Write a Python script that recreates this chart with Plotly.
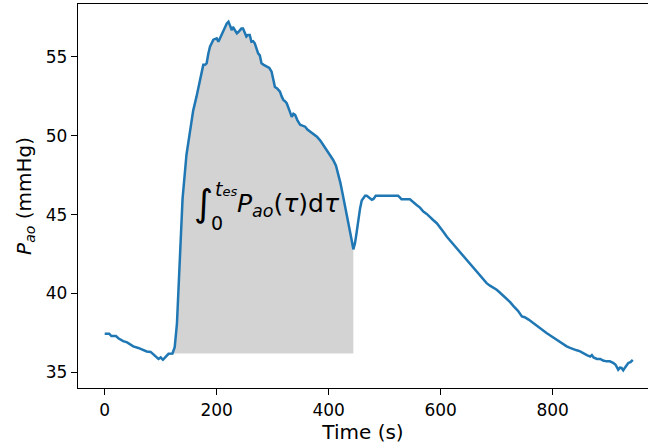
import plotly.graph_objects as go

# Time (s)
time_s = [0, 8, 12, 20, 25, 33, 40, 51, 60, 68, 75, 82, 88, 96, 100, 104, 108, 114, 121,
          125, 129, 134, 139, 143, 146, 152, 158, 164, 170, 176, 179, 182, 185, 188, 194,
          200, 203, 206, 209, 214, 218, 221, 224, 227, 229, 231, 234, 236, 239, 241, 244,
          247, 250, 253, 256, 259, 262, 265, 268, 271, 274, 277, 280, 284, 289, 294, 298,
          301, 304, 308, 313, 316, 319, 322, 325, 330, 334, 337, 340, 344, 349, 353, 358,
          362, 367, 373, 379, 385, 390, 395, 399, 404, 408, 413, 417, 421, 425, 429, 433,
          437, 441, 444, 447, 450, 453, 456, 459, 462, 465, 468, 471, 474, 477, 480, 484,
          490, 500, 510, 524, 527, 530, 545, 550, 557, 563, 569, 575, 581, 587, 593, 599,
          605, 611, 617, 623, 629, 635, 642, 649, 656, 664, 670, 676, 682, 688, 694, 700,
          706, 712, 718, 724, 730, 738, 745, 750, 757, 765, 771, 777, 783, 789, 795, 801,
          807, 813, 819, 825, 831, 837, 843, 849, 855, 861, 867, 870, 873, 879, 885, 890,
          896, 902, 908, 912, 917, 920, 923, 926, 929, 932, 935, 939, 943]
# Aortic pressure (mmHg)
p_ao = [37.45, 37.45, 37.3, 37.3, 37.15, 36.98, 36.9, 36.65, 36.55, 36.45, 36.33, 36.3, 36.1,
        35.85, 35.95, 35.8, 35.95, 36.18, 36.2,
        36.6, 38.1, 42.3, 46.0, 47.6, 48.8, 50.2, 51.6, 52.5, 53.5, 54.5, 54.5, 54.6, 55.2,
        55.65, 56.1, 56.18, 55.97, 56.2, 56.5, 56.9, 57.13, 57.24, 57.0, 56.7, 56.9, 56.8,
        56.6, 56.5, 56.6, 56.7, 56.8, 56.8, 56.6, 56.3, 56.4, 56.4, 55.97, 56.0, 55.87, 55.6,
        55.23, 55.1, 54.6, 54.5, 54.39, 54.3, 54.07, 53.6, 53.1, 53.0, 52.8, 52.5, 52.28,
        52.2, 52.07, 51.6, 51.2, 51.4, 51.33, 51.0, 50.7, 50.65, 50.58, 50.4, 50.27, 50.1,
        49.95, 49.7, 49.43, 49.2, 49.0, 48.75, 48.47, 48.1, 47.63, 47.0, 46.3, 45.6, 45.0,
        44.2, 43.4, 42.8, 43.2, 43.9, 44.7, 45.4, 45.9, 46.1, 46.2, 46.2, 46.1, 46.0, 45.95,
        46.0, 46.2, 46.2, 46.2, 46.2, 46.2, 46.1, 45.98, 45.98, 45.85, 45.62, 45.45, 45.2,
        45.05, 44.88, 44.65, 44.46, 44.2, 43.9, 43.6, 43.35, 43.05, 42.8, 42.55, 42.3, 42.03,
        41.7, 41.4, 41.15, 40.9, 40.66, 40.5, 40.38, 40.24, 40.05, 39.85, 39.7, 39.45, 39.2,
        38.9, 38.55, 38.5, 38.35, 38.13, 37.95, 37.8, 37.65, 37.5, 37.35, 37.2, 37.07, 36.95,
        36.8, 36.65, 36.55, 36.45, 36.4, 36.33, 36.2, 36.1, 36.0, 36.1, 35.95, 35.85, 35.85,
        35.75, 35.7, 35.7, 35.6, 35.5, 35.17, 35.3, 35.28, 35.13, 35.3, 35.5, 35.6, 35.65, 35.8]

# Integration window (start of ejection to end-systole)
t_start = 121
t_es = 444

x_ticks = [0, 200, 400, 600, 800]
y_ticks = [35, 40, 45, 50, 55]

sel = [i for i, t in enumerate(time_s) if t_start <= t <= t_es]
t_sel = [time_s[i] for i in sel]
p_sel = [p_ao[i] for i in sel]
base = p_sel[0]

fig = go.Figure()
fig.add_trace(go.Scatter(
    x=t_sel + [t_sel[-1], t_sel[0]],
    y=p_sel + [base, base],
    fill="toself", fillcolor="#d3d3d3", mode="lines",
    line=dict(width=0, color="#d3d3d3"), hoverinfo="skip", showlegend=False))
fig.add_trace(go.Scatter(
    x=time_s, y=p_ao, mode="lines",
    line=dict(color="#1f77b4", width=2.5), showlegend=False))

font = "DejaVu Sans"
ann = []
ann.append(dict(x=176, y=45.7, text="∫", font=dict(size=37, family=font, color="black"),
                showarrow=False, xanchor="center", yanchor="middle"))
ann.append(dict(x=194, y=46.6, text="<i>t</i><span style='font-size:13px'><i>es</i></span>",
                font=dict(size=19, family=font, color="black"),
                showarrow=False, xanchor="left", yanchor="middle"))
ann.append(dict(x=200, y=44.5, text="0", font=dict(size=19, family=font, color="black"),
                showarrow=False, xanchor="center", yanchor="middle"))
ann.append(dict(x=232, y=45.6,
                text="<i>P</i><sub><i>ao</i></sub>(<i>τ</i>)d<i>τ</i>",
                font=dict(size=25, family=font, color="black"),
                showarrow=False, xanchor="left", yanchor="middle"))

fig.update_layout(
    width=648, height=448,
    margin=dict(l=78, r=0, t=4, b=60),
    plot_bgcolor="white", paper_bgcolor="white",
    font=dict(family=font, color="black"),
    annotations=ann,
    xaxis=dict(range=[-47.7, 970.2], tickvals=x_ticks, ticks="outside", ticklen=6,
               tickwidth=1.4, tickcolor="black", showline=True, linecolor="black",
               linewidth=1.4, mirror=True, showgrid=False, zeroline=False,
               tickfont=dict(size=17), automargin=False,
               title=dict(text="Time (s)", font=dict(size=20), standoff=4)),
    yaxis=dict(range=[34.01, 58.36], tickvals=y_ticks, ticks="outside", ticklen=6,
               tickwidth=1.4, tickcolor="black", showline=True, linecolor="black",
               linewidth=1.4, mirror=False, showgrid=False, zeroline=False,
               tickfont=dict(size=17), automargin=False,
               title=dict(text="<i>P</i><sub><i>ao</i></sub> (mmHg)", font=dict(size=20),
                          standoff=8)),
)

fig.write_html("out.html", config={"displayModeBar": False},
               post_script="document.body.style.margin='0';document.body.style.overflow='hidden';")
